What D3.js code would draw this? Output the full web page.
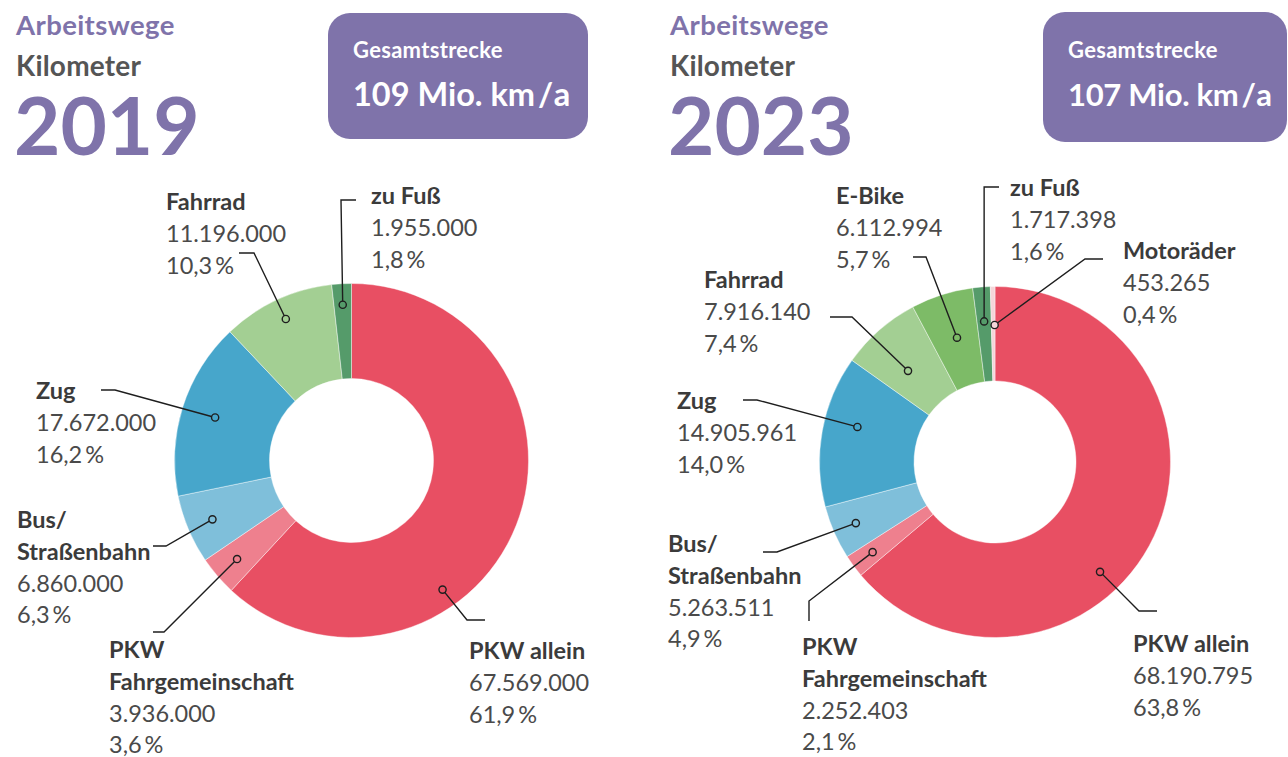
<!DOCTYPE html>
<html><head><meta charset="utf-8">
<script src="https://cdn.jsdelivr.net/npm/d3@7"></script>
<style>
html,body{margin:0;padding:0;background:#fff;}
svg{display:block;font-family:Lato,"Open Sans",sans-serif;}
</style></head>
<body>
<svg id="chart" width="1288" height="757"></svg>
<script>
// ---- data ----
const years = ["2019", "2023"];
const categories2019 = ["PKW allein", "PKW Fahrgemeinschaft", "Bus/Straßenbahn", "Zug", "Fahrrad", "zu Fuß"];
const values2019 = [67569000, 3936000, 6860000, 17672000, 11196000, 1955000];
const categories2023 = ["PKW allein", "PKW Fahrgemeinschaft", "Bus/Straßenbahn", "Zug", "Fahrrad", "E-Bike", "zu Fuß", "Motoräder"];
const values2023 = [68190795, 2252403, 5263511, 14905961, 7916140, 6112994, 1717398, 453265];
const titleLabel = "Arbeitswege";
const unitLabel = "Kilometer";
const boxLabel = "Gesamtstrecke";

// ---- styles ----
const colorByCategory = {
  "PKW allein": "#e84f63",
  "PKW Fahrgemeinschaft": "#ee808e",
  "Bus/Straßenbahn": "#7fbfda",
  "Zug": "#47a6cb",
  "Fahrrad": "#a3cf93",
  "E-Bike": "#7dbb67",
  "zu Fuß": "#559b6a",
  "Motoräder": "#f5d5d9"
};
const nameLines = {
  "PKW Fahrgemeinschaft": ["PKW", "Fahrgemeinschaft"],
  "Bus/Straßenbahn": ["Bus/", "Straßenbahn"]
};
const purple = "#7f73aa";

// ---- layout (annotation placement) ----
const layouts = [
  { x0: 0, cx: 351.5, cy: 460.5, rO: 177, rI: 82, boxX: 328, boxY: 13, boxW: 260, boxH: 126, boxFs: 32.5, boxLs: 0,
    labels: {
      "PKW allein": { tx: 469, ty: 659, f: 0.65, r: 158, pts: [[467, 620], [485, 620]] },
      "PKW Fahrgemeinschaft": { tx: 109, ty: 658, f: 0.5, r: 151, pts: [[164, 632], [153, 632]] },
      "Bus/Straßenbahn": { tx: 17, ty: 528, f: 0.5, r: 151, pts: [[166, 546], [153, 546]] },
      "Zug": { tx: 36, ty: 399, f: 0.5, r: 143, pts: [[115, 390], [101, 390]] },
      "Fahrrad": { tx: 166, ty: 210, f: 0.5, r: 156, pts: [[254, 253], [239, 253]] },
      "zu Fuß": { tx: 371, ty: 204, f: 0.5, r: 156, pts: [[341, 200], [356, 200]] }
    } },
  { x0: 654, cx: 995, cy: 462, rO: 175.5, rI: 81, boxX: 1043, boxY: 12, boxW: 244, boxH: 130, boxFs: 31, boxLs: -0.3,
    labels: {
      "PKW allein": { tx: 1133, ty: 652, f: 0.593, r: 152, pts: [[1139, 611], [1157, 611]] },
      "PKW Fahrgemeinschaft": { tx: 802, ty: 655, f: 0.5, r: 152, pts: [[809, 601], [809, 621]] },
      "Bus/Straßenbahn": { tx: 668, ty: 552, f: 0.5, r: 152, pts: [[777, 552], [763, 552]] },
      "Zug": { tx: 677, ty: 409, f: 0.58, r: 142, pts: [[757, 400], [743, 400]] },
      "Fahrrad": { tx: 704, ty: 288, f: 0.41, r: 126, pts: [[852, 317], [830, 317]] },
      "E-Bike": { tx: 836, ty: 204, f: 0.53, r: 130, pts: [[926, 257], [913, 257]] },
      "zu Fuß": { tx: 1010, ty: 196, f: 0.5, r: 141, pts: [[null, 187], [999, 187]] },
      "Motoräder": { tx: 1123, ty: 259, f: 0.9, r: 137, pts: [[1085, 259], [1103, 259]] }
    } }
];

const de = d3.formatLocale({ decimal: ",", thousands: ".", grouping: [3], currency: ["", " €"] });
const fmtInt = de.format(",d");
const fmtPct = de.format(".1f");
const fmtMio = de.format(".0f");

const svg = d3.select("#chart");
const datasets = [
  { year: years[0], cats: categories2019, vals: values2019 },
  { year: years[1], cats: categories2023, vals: values2023 }
];

datasets.forEach((ds, i) => {
  const L = layouts[i];
  const g = svg.append("g");
  const total = d3.sum(ds.vals);
  const rows = ds.cats.map((c, k) => ({ cat: c, value: ds.vals[k] }));

  // header
  const hx = L.x0 + 16;
  g.append("text").attr("x", hx).attr("y", 35).attr("fill", purple)
    .attr("font-size", 27.5).attr("letter-spacing", 0.4).attr("font-weight", 700).text(titleLabel);
  g.append("text").attr("x", hx).attr("y", 76).attr("fill", "#555")
    .attr("font-size", 28).attr("letter-spacing", 0.2).attr("font-weight", 700).text(unitLabel);
  g.append("text").attr("x", hx - 2).attr("y", 155).attr("fill", purple)
    .attr("font-size", 80).attr("font-weight", 700).text(ds.year);

  g.append("rect").attr("x", L.boxX).attr("y", L.boxY).attr("width", L.boxW).attr("height", L.boxH)
    .attr("rx", 22).attr("fill", purple);
  g.append("text").attr("x", L.boxX + 25).attr("y", 58).attr("fill", "#fff")
    .attr("font-size", 22).attr("letter-spacing", 0.3).attr("font-weight", 700).text(boxLabel);
  const bt = g.append("text").attr("x", L.boxX + 25).attr("y", 106).attr("fill", "#fff")
    .attr("font-size", L.boxFs).attr("letter-spacing", L.boxLs).attr("font-weight", 700);
  bt.append("tspan").text(fmtMio(total / 1e6) + " Mio. km");
  bt.append("tspan").attr("dx", 3).text("/");
  bt.append("tspan").attr("dx", 2).text("a");

  // donut
  const pie = d3.pie().value(d => d.value).sort(null);
  const arcs = pie(rows);
  const arc = d3.arc().innerRadius(L.rI).outerRadius(L.rO);
  const pg = g.append("g").attr("transform", `translate(${L.cx},${L.cy})`);
  pg.selectAll("path").data(arcs).join("path")
    .attr("d", arc).attr("fill", d => colorByCategory[d.data.cat])
    .attr("stroke", "#fff").attr("stroke-width", 0.6).attr("stroke-opacity", 0.7);

  // labels + leaders
  arcs.forEach(a => {
    const lay = L.labels[a.data.cat];
    const ang = a.startAngle + (a.endAngle - a.startAngle) * lay.f;
    const dx = L.cx + lay.r * Math.sin(ang);
    const dy = L.cy - lay.r * Math.cos(ang);
    const pts = [[dx, dy]].concat(lay.pts.map(p => [p[0] === null ? dx : p[0], p[1]]));
    g.append("path").attr("d", d3.line()(pts)).attr("fill", "none")
      .attr("stroke", "#1e1e1e").attr("stroke-width", 1.4);
    g.append("circle").attr("cx", dx).attr("cy", dy).attr("r", 3.6)
      .attr("fill", colorByCategory[a.data.cat]).attr("stroke", "#1e1e1e").attr("stroke-width", 1.4);

    const names = nameLines[a.data.cat] || [a.data.cat];
    const t = g.append("text").attr("x", lay.tx).attr("y", lay.ty).attr("font-size", 23.5);
    let k = 0;
    names.forEach(n => {
      t.append("tspan").attr("x", lay.tx).attr("y", lay.ty + (k++) * 31.8)
        .attr("font-weight", 700).attr("fill", "#3b3b3b").text(n);
    });
    t.append("tspan").attr("x", lay.tx).attr("y", lay.ty + (k++) * 31.8)
      .attr("fill", "#4a4a4a").text(fmtInt(a.data.value));
    t.append("tspan").attr("x", lay.tx).attr("y", lay.ty + (k++) * 31.8)
      .attr("fill", "#4a4a4a").text(fmtPct(a.data.value / total * 100));
    t.append("tspan").attr("dx", 3).attr("fill", "#4a4a4a").text("%");
  });
});
</script>
</body></html>
